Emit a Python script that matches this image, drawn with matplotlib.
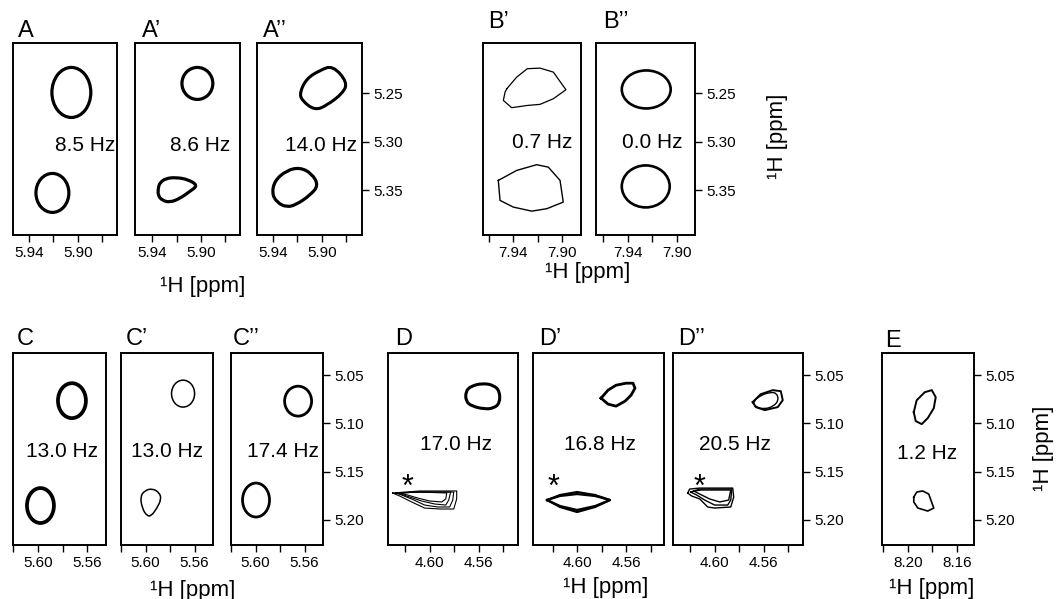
import matplotlib
matplotlib.use('Agg')
import matplotlib.pyplot as plt
from matplotlib.patches import Ellipse, PathPatch
from matplotlib.path import Path
from matplotlib.ticker import FormatStrFormatter

plt.rcParams['font.family'] = ['Liberation Sans', 'DejaVu Sans']

# ---- peak data (ppm) ----
# ellipse-like peaks: (x centre, y centre, width, height)
A_ell = [(5.9053, 5.2490, 0.0318, 0.0516), (5.9208, 5.3526, 0.0269, 0.0402)]
A1_ell = [(5.9029, 5.2397, 0.0253, 0.0330)]
B2_ell = [(7.9249, 5.2459, 0.0400, 0.0392), (7.9253, 5.3459, 0.0392, 0.0433)]
C_ell = [(5.5723, 5.0764, 0.0228, 0.0362), (5.5980, 5.1851, 0.0220, 0.0362)]
C1_ell = [(5.5694, 5.0691, 0.0188, 0.0279)]
C2_ell = [(5.5653, 5.0769, 0.0220, 0.0310), (5.5996, 5.1794, 0.0220, 0.0352)]

# outlined peaks (contour vertices)
A1_low_x = [5.9351, 5.9335, 5.9286, 5.9204, 5.9106, 5.9025, 5.9090, 5.9172, 5.9253, 5.9318, 5.9351]
A1_low_y = [5.3479, 5.3418, 5.3376, 5.3366, 5.3387, 5.3449, 5.3510, 5.3583, 5.3624, 5.3603, 5.3552]
A2_up_x = [5.8910, 5.8788, 5.8829, 5.8959, 5.9057, 5.9163, 5.9180, 5.9123, 5.9016]
A2_up_y = [5.2211, 5.2387, 5.2500, 5.2624, 5.2675, 5.2572, 5.2490, 5.2345, 5.2263]
A2_low_x = [5.9408, 5.9384, 5.9286, 5.9180, 5.9082, 5.9025, 5.9098, 5.9204, 5.9286, 5.9367]
A2_low_y = [5.3531, 5.3397, 5.3294, 5.3263, 5.3325, 5.3449, 5.3552, 5.3644, 5.3675, 5.3624]

B1_up_x = [7.9451, 7.9370, 7.9283, 7.9180, 7.9071, 7.8968, 7.9071, 7.9180, 7.9283, 7.9411, 7.9479, 7.9465]
B1_up_y = [5.2452, 5.2332, 5.2245, 5.2239, 5.2280, 5.2462, 5.2555, 5.2613, 5.2624, 5.2647, 5.2572, 5.2487]
B1_low_x = [7.9520, 7.9370, 7.9207, 7.9112, 7.9016, 7.8990, 7.9125, 7.9247, 7.9398, 7.9506]
B1_low_y = [5.3397, 5.3294, 5.3235, 5.3260, 5.3397, 5.3621, 5.3689, 5.3714, 5.3672, 5.3603]

C1_low_x = [5.6043, 5.6008, 5.5945, 5.5886, 5.5872, 5.5908, 5.5953, 5.5989, 5.6027]
C1_low_y = [5.1760, 5.1697, 5.1673, 5.1718, 5.1787, 5.1880, 5.1959, 5.1959, 5.1880]

D_up_x = [4.5665, 4.5568, 4.5478, 4.5429, 4.5429, 4.5478, 4.5551, 4.5657, 4.5706, 4.5706]
D_up_y = [5.0614, 5.0583, 5.0604, 5.0666, 5.0790, 5.0842, 5.0852, 5.0821, 5.0769, 5.0666]
D_star_x = [[4.6302, 4.6082, 4.5780, 4.5780, 4.5804, 4.5918, 4.6041, 4.6147, 4.6245],
            [4.6277, 4.6082, 4.5804, 4.5812, 4.5837, 4.5935, 4.6041, 4.6147, 4.6228],
            [4.6261, 4.6082, 4.5829, 4.5845, 4.5869, 4.5959, 4.6065, 4.6163],
            [4.6245, 4.6082, 4.5861, 4.5869, 4.5902, 4.6000, 4.6098, 4.6180]]
D_star_y = [[5.1721, 5.1700, 5.1700, 5.1783, 5.1887, 5.1887, 5.1877, 5.1814, 5.1752],
            [5.1721, 5.1711, 5.1711, 5.1794, 5.1866, 5.1866, 5.1846, 5.1783, 5.1742],
            [5.1721, 5.1711, 5.1711, 5.1794, 5.1846, 5.1835, 5.1804, 5.1763],
            [5.1721, 5.1711, 5.1721, 5.1783, 5.1814, 5.1804, 5.1773, 5.1742]]

D1_up_x = [4.5804, 4.5747, 4.5682, 4.5600, 4.5543, 4.5527, 4.5559, 4.5608, 4.5682, 4.5747]
D1_up_y = [5.0738, 5.0655, 5.0604, 5.0583, 5.0583, 5.0635, 5.0707, 5.0769, 5.0821, 5.0800]
D1_star_x = [[4.6245, 4.6139, 4.6000, 4.5853, 4.5731, 4.5853, 4.6000, 4.6139],
             [4.6245, 4.6139, 4.6000, 4.5853, 4.5731, 4.5853, 4.6000, 4.6139]]
D1_star_y = [[5.1794, 5.1742, 5.1711, 5.1742, 5.1794, 5.1866, 5.1918, 5.1866],
             [5.1794, 5.1752, 5.1732, 5.1752, 5.1794, 5.1856, 5.1897, 5.1856]]

D2_up_x = [[4.5690, 4.5625, 4.5527, 4.5461, 4.5445, 4.5486, 4.5592, 4.5665],
           [4.5690, 4.5625, 4.5543, 4.5494, 4.5478, 4.5519, 4.5592, 4.5665]]
D2_up_y = [[5.0779, 5.0697, 5.0655, 5.0666, 5.0759, 5.0831, 5.0862, 5.0831],
           [5.0779, 5.0707, 5.0676, 5.0686, 5.0759, 5.0821, 5.0852, 5.0831]]
D2_star_x = [[4.6220, 4.6204, 4.6122, 4.5853, 4.5845, 4.5869, 4.6000, 4.6057, 4.6122, 4.6188],
             [4.6196, 4.6122, 4.5861, 4.5869, 4.5894, 4.6000, 4.6082, 4.6147],
             [4.6171, 4.6106, 4.5869, 4.5886, 4.5959, 4.6041, 4.6122]]
D2_star_y = [[5.1721, 5.1680, 5.1670, 5.1670, 5.1763, 5.1866, 5.1877, 5.1866, 5.1783, 5.1752],
             [5.1711, 5.1680, 5.1680, 5.1794, 5.1846, 5.1846, 5.1794, 5.1742],
             [5.1700, 5.1690, 5.1690, 5.1794, 5.1814, 5.1783, 5.1732]]

E_up_x = [8.1951, 8.1927, 8.1861, 8.1804, 8.1772, 8.1788, 8.1837, 8.1886, 8.1935]
E_up_y = [5.0883, 5.0759, 5.0676, 5.0655, 5.0728, 5.0842, 5.0945, 5.1007, 5.0976]
E_low_x = [8.1951, 8.1927, 8.1878, 8.1829, 8.1788, 8.1837, 8.1918, 8.1951]
E_low_y = [5.1763, 5.1711, 5.1700, 5.1732, 5.1877, 5.1908, 5.1877, 5.1814]

couplings = ['8.5 Hz', '8.6 Hz', '14.0 Hz', '0.7 Hz', '0.0 Hz',
             '13.0 Hz', '13.0 Hz', '17.4 Hz', '17.0 Hz', '16.8 Hz', '20.5 Hz', '1.2 Hz']
names = ['A', 'A\u2019', 'A\u2019\u2019', 'B\u2019', 'B\u2019\u2019',
         'C', 'C\u2019', 'C\u2019\u2019', 'D', 'D\u2019', 'D\u2019\u2019', 'E']

top_yticks = [5.25, 5.30, 5.35]
bot_yticks = [5.05, 5.10, 5.15, 5.20]

W, H = 1056, 599
fig = plt.figure(figsize=(W / 100, H / 100), dpi=100)


def ptext(x, y, s, size, **kw):
    return fig.text(x / W, 1 - y / H, s, fontsize=size, **kw)


def frame(px, xlim, ylim, major, minor, yticks=None):
    x0, y0, x1, y1 = px
    ax = fig.add_axes([x0 / W, 1 - y1 / H, (x1 - x0) / W, (y1 - y0) / H])
    ax.set_xlim(*xlim)
    ax.set_ylim(*ylim)
    ax.set_xticks(major)
    ax.set_xticks(minor, minor=True)
    ax.xaxis.set_major_formatter(FormatStrFormatter('%.2f'))
    ax.tick_params(axis='x', which='both', direction='out', length=5, width=1,
                   labelsize=11, pad=3)
    if yticks:
        ax.yaxis.tick_right()
        ax.set_yticks(yticks)
        ax.yaxis.set_major_formatter(FormatStrFormatter('%.2f'))
        ax.tick_params(axis='y', direction='out', length=5, width=1, labelsize=11, pad=3)
    else:
        ax.set_yticks([])
    for s in ax.spines.values():
        s.set_linewidth(1.4)
    return ax


def ellipses(ax, items, lw):
    for cx, cy, w, h in items:
        ax.add_patch(Ellipse((cx, cy), w, h, fill=False, ec='black', lw=lw))


def outline(ax, xs, ys, lw):
    # sharp-cornered contour
    ax.plot(xs + xs[:1], ys + ys[:1], color='black', lw=lw, solid_joinstyle='round')


def blob(ax, xs, ys, lw):
    # rounded contour: vertices used as quadratic control points
    pts = list(zip(xs, ys))
    n = len(pts)
    mids = [((pts[i][0] + pts[(i + 1) % n][0]) / 2, (pts[i][1] + pts[(i + 1) % n][1]) / 2)
            for i in range(n)]
    verts = [mids[-1]]
    codes = [Path.MOVETO]
    for i in range(n):
        verts += [pts[i], mids[i]]
        codes += [Path.CURVE3, Path.CURVE3]
    ax.add_patch(PathPatch(Path(verts, codes), fill=False, ec='black', lw=lw))


top_ylim = (5.396, 5.198)
bot_ylim = (5.226, 5.027)

# ---- top row ----
ax = frame((13, 43, 117, 235), (5.953, 5.868), top_ylim, [5.94, 5.90], [5.92, 5.88])
ellipses(ax, A_ell, 2.3)
ax = frame((135, 43, 240, 235), (5.954, 5.868), top_ylim, [5.94, 5.90], [5.92, 5.88])
ellipses(ax, A1_ell, 2.3)
blob(ax, A1_low_x, A1_low_y, 2.3)
ax = frame((257, 43, 362, 235), (5.953, 5.867), top_ylim, [5.94, 5.90], [5.92, 5.88], top_yticks)
blob(ax, A2_up_x, A2_up_y, 2.2)
blob(ax, A2_low_x, A2_low_y, 2.3)
ax = frame((483, 43, 581, 235), (7.9645, 7.8845), top_ylim, [7.94, 7.90], [7.96, 7.92])
outline(ax, B1_up_x, B1_up_y, 0.9)
outline(ax, B1_low_x, B1_low_y, 1.0)
ax = frame((596, 43, 695, 235), (7.966, 7.885), top_ylim, [7.94, 7.90], [7.96, 7.92], top_yticks)
ellipses(ax, B2_ell, 1.9)

# ---- bottom row ----
ax = frame((13, 353, 106, 545), (5.6204, 5.5445), bot_ylim, [5.60, 5.56], [5.62, 5.58])
ellipses(ax, C_ell, 2.7)
ax = frame((121, 353, 213, 545), (5.620, 5.545), bot_ylim, [5.60, 5.56], [5.62, 5.58])
ellipses(ax, C1_ell, 1.1)
blob(ax, C1_low_x, C1_low_y, 1.1)
ax = frame((231, 353, 323, 545), (5.620, 5.545), bot_ylim, [5.60, 5.56], [5.62, 5.58], bot_yticks)
ellipses(ax, C2_ell, 2.0)

ax = frame((388, 353, 518, 545), (4.634, 4.528), bot_ylim, [4.60, 4.56], [4.62, 4.58, 4.54])
blob(ax, D_up_x, D_up_y, 2.2)
for xs, ys in zip(D_star_x, D_star_y):
    outline(ax, xs, ys, 0.8)
ax = frame((533, 353, 664, 545), (4.636, 4.529), bot_ylim, [4.60, 4.56], [4.62, 4.58, 4.54])
outline(ax, D1_up_x, D1_up_y, 2.0)
for xs, ys in zip(D1_star_x, D1_star_y):
    outline(ax, xs, ys, 1.6)
ax = frame((673, 353, 803, 545), (4.634, 4.528), bot_ylim, [4.60, 4.56], [4.62, 4.58, 4.54], bot_yticks)
outline(ax, D2_up_x[0], D2_up_y[0], 1.4)
blob(ax, D2_up_x[1], D2_up_y[1], 1.0)
for xs, ys in zip(D2_star_x, D2_star_y):
    outline(ax, xs, ys, 1.0)
ax = frame((882, 353, 974, 545), (8.221, 8.146), bot_ylim, [8.20, 8.16], [8.22, 8.18], bot_yticks)
outline(ax, E_up_x, E_up_y, 1.4)
outline(ax, E_low_x, E_low_y, 1.2)

# ---- annotations ----
name_pos = [(18, 37), (142, 37), (263, 37), (488, 28), (603, 28),
            (17, 345), (126, 345), (233, 345), (395, 345), (539, 345), (678, 345), (885, 347)]
for (x, y), s in zip(name_pos, names):
    ptext(x, y, s, 17, ha='left', va='baseline')

hz_pos = [(85, 151), (200, 151), (321, 151), (542, 148), (652, 148),
          (62, 457), (167, 457), (283, 457), (456, 450), (600, 450), (735, 450), (927, 459)]
for (x, y), s in zip(hz_pos, couplings):
    ptext(x, y, s, 15, ha='center', va='baseline')

for x in (407, 553, 700):
    ptext(x, 496, '*', 22, ha='center', va='baseline')

for x, y in [(203, 292), (588, 278), (193, 596), (606, 593), (932, 594)]:
    ptext(x, y, '\u00b9H [ppm]', 16, ha='center', va='baseline')
for x, y in [(777, 136), (1043, 448)]:
    ptext(x, y, '\u00b9H [ppm]', 16, ha='center', va='center', rotation=90)

fig.savefig('out.png', dpi=100)
